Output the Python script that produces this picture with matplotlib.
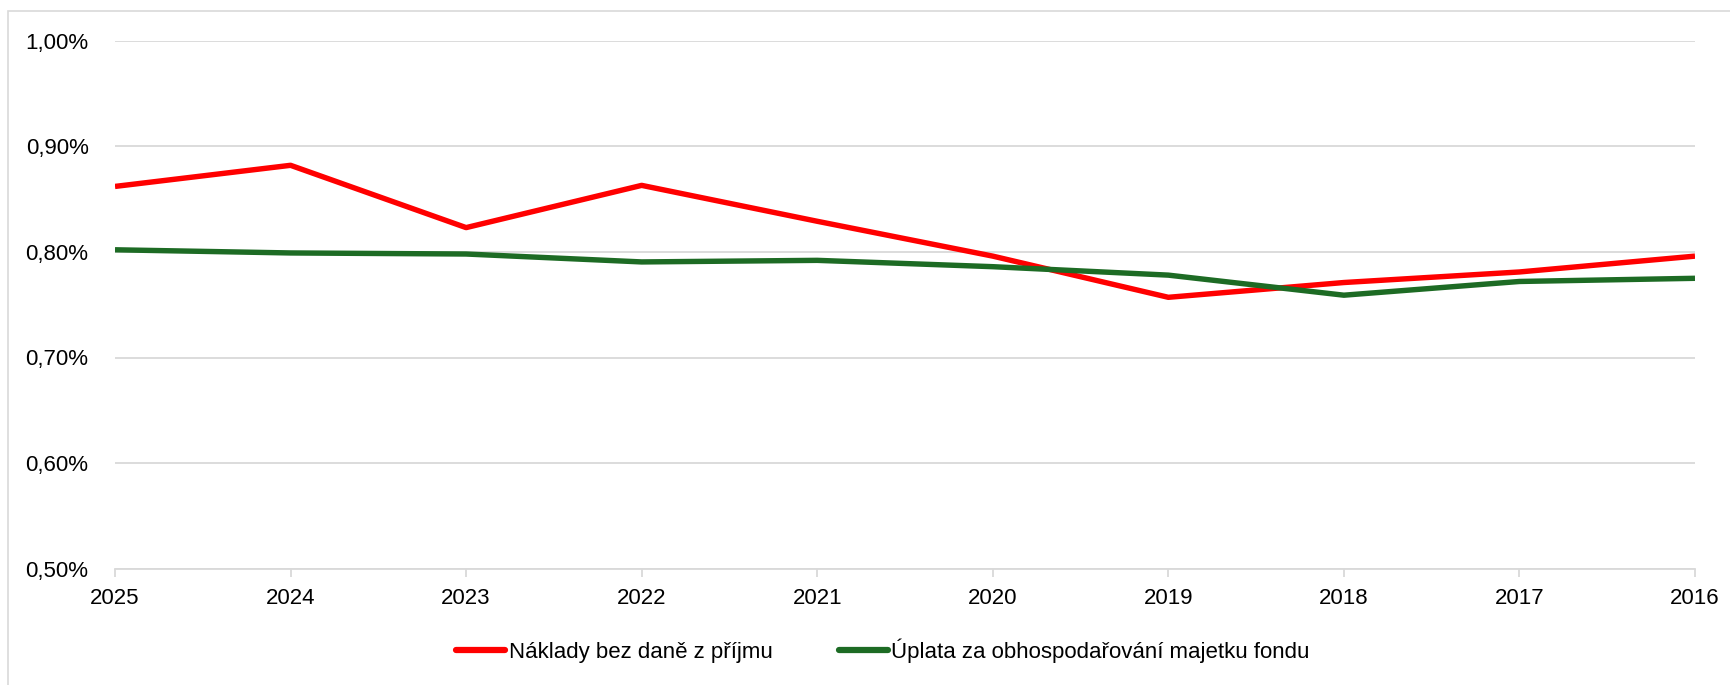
import matplotlib.pyplot as plt
from matplotlib.patches import Rectangle
from matplotlib.ticker import FuncFormatter, MultipleLocator

plt.rcParams['font.family'] = ['Liberation Sans', 'DejaVu Sans']

years = ["2025", "2024", "2023", "2022", "2021", "2020", "2019", "2018", "2017", "2016"]
naklady = [0.862, 0.882, 0.823, 0.863, 0.829, 0.796, 0.757, 0.771, 0.781, 0.796]
uplata = [0.802, 0.799, 0.798, 0.7905, 0.792, 0.786, 0.778, 0.759, 0.772, 0.775]

label_naklady = "Náklady bez daně z příjmu"
label_uplata = "Úplata za obhospodařování majetku fondu"

fig = plt.figure(figsize=(17.31, 6.85), dpi=100)
# outer chart frame (extends past the right/bottom edge)
fig.patches.append(Rectangle((8 / 1731, -0.1), 1.2, 1.1 - 11 / 685, transform=fig.transFigure,
                             fill=False, edgecolor="#d9d9d9", linewidth=1.2))

ax = fig.add_axes([115 / 1731, 1 - 568.7 / 685, 1580 / 1731, 528 / 685])
x = range(len(years))
ax.plot(x, naklady, color="#ff0000", linewidth=3.9, label=label_naklady, solid_capstyle="butt")
ax.plot(x, uplata, color="#1d6b24", linewidth=3.9, label=label_uplata, solid_capstyle="butt")

ax.set_xlim(0, len(years) - 1)
ax.set_ylim(0.5, 1.0)
ax.yaxis.set_major_locator(MultipleLocator(0.1))
ax.yaxis.set_major_formatter(FuncFormatter(lambda v, p: f"{v:.2f}%".replace(".", ",")))
ax.set_xticks(list(x))
ax.set_xticklabels(years)

ax.grid(axis="y", color="#d9d9d9", linewidth=1.3)
ax.set_axisbelow(True)
for s in ["top", "right", "left"]:
    ax.spines[s].set_visible(False)
ax.spines["bottom"].set_color("#d9d9d9")
ax.spines["bottom"].set_linewidth(1.3)
ax.tick_params(axis="y", length=0, pad=19, labelsize=16, colors="#000000")
ax.tick_params(axis="x", length=6, width=1.3, color="#d9d9d9", pad=8, labelsize=16)

leg = fig.legend(loc="center", bbox_to_anchor=(883 / 1731, 1 - 651 / 685), ncol=2, frameon=False,
                 fontsize=16, handlelength=2.2, handletextpad=0.15, columnspacing=3.0)
for line in leg.get_lines():
    line.set_linewidth(4.5)
    line.set_solid_capstyle("round")

fig.savefig("out.png", dpi=100)
